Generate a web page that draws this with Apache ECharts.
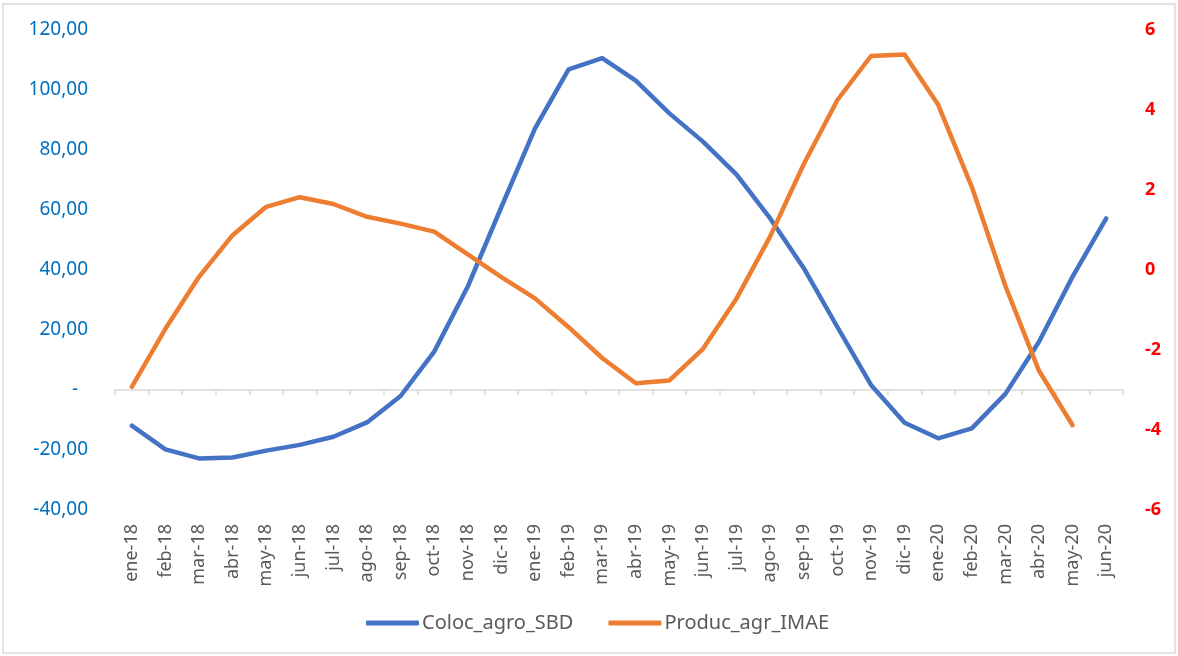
<!DOCTYPE html>
<html>
<head>
<meta charset="utf-8">
<script src="https://cdn.jsdelivr.net/npm/echarts@6/dist/echarts.min.js"></script>
<style>
html,body{margin:0;padding:0;background:#fff;}
#chart{width:1178px;height:656px;}
</style>
</head>
<body>
<div id="chart"></div>
<script>
var categories = ['ene-18','feb-18','mar-18','abr-18','may-18','jun-18','jul-18','ago-18','sep-18','oct-18','nov-18','dic-18',
  'ene-19','feb-19','mar-19','abr-19','may-19','jun-19','jul-19','ago-19','sep-19','oct-19','nov-19','dic-19',
  'ene-20','feb-20','mar-20','abr-20','may-20','jun-20'];
var colocAgroSBD = [-11.9, -19.8, -22.8, -22.5, -20.2, -18.3, -15.6, -10.8, -2.0, 12.8, 34.5, 61.0,
  87.2, 106.9, 110.6, 103.1, 92.2, 82.8, 71.8, 57.2, 40.6, 21.0, 1.7, -10.9,
  -16.1, -12.8, -1.3, 16.1, 37.8, 57.2];
var producAgrIMAE = [-2.92, -1.47, -0.17, 0.87, 1.58, 1.82, 1.65, 1.33, 1.16, 0.96, 0.39, -0.18,
  -0.71, -1.43, -2.2, -2.83, -2.76, -1.97, -0.71, 0.84, 2.65, 4.25, 5.35, 5.39,
  4.13, 2.08, -0.4, -2.52, -3.88, null];
var seriesNames = ['Coloc_agro_SBD', 'Produc_agr_IMAE'];

var font = 'Noto Sans';
var chart = echarts.init(document.getElementById('chart'));
chart.setOption({
  animation: false,
  backgroundColor: '#fff',
  graphic: [{
    type: 'rect',
    shape: {x: 3, y: 4, width: 1172, height: 649},
    style: {fill: 'none', stroke: '#D9D9D9', lineWidth: 1.5},
    silent: true
  }],
  grid: {left: 115, right: 55, top: 30, bottom: 146},
  legend: {
    data: seriesNames,
    left: 361,
    top: 608,
    icon: 'roundRect',
    itemWidth: 53,
    itemHeight: 5,
    itemGap: 35,
    textStyle: {fontFamily: font, fontSize: 20, color: '#595959', padding: [0, 0, 0, -2]}
  },
  xAxis: [{
    type: 'category',
    data: categories,
    position: 'bottom',
    boundaryGap: true,
    axisLine: {show: false, onZero: false},
    axisTick: {show: false},
    axisLabel: {rotate: 90, margin: 14, interval: 0, fontFamily: font, fontSize: 18, color: '#595959'}
  }, {
    type: 'category',
    data: categories,
    position: 'top',
    boundaryGap: true,
    axisLine: {show: true, onZero: true, onZeroAxisIndex: 0, lineStyle: {color: '#D9D9D9', width: 1.5}},
    axisTick: {show: true, inside: true, length: 5, interval: 0, lineStyle: {color: '#D9D9D9', width: 1.5}},
    axisLabel: {show: false}
  }],
  yAxis: [{
    type: 'value',
    min: -40, max: 120, interval: 20,
    axisLine: {show: false},
    axisTick: {show: false},
    splitLine: {show: false},
    axisLabel: {
      margin: 27,
      fontFamily: font, fontSize: 19, color: '#0070C0',
      formatter: function (v) { return v === 0 ? '-  ' : v.toFixed(2).replace('.', ','); }
    }
  }, {
    type: 'value',
    min: -6, max: 6, interval: 2,
    position: 'right',
    axisLine: {show: false},
    axisTick: {show: false},
    splitLine: {show: false},
    axisLabel: {margin: 22, fontFamily: font, fontSize: 18, fontWeight: 'bold', color: '#FF0000'}
  }],
  series: [{
    name: seriesNames[0],
    type: 'line',
    xAxisIndex: 0,
    yAxisIndex: 0,
    data: colocAgroSBD,
    symbol: 'none',
    itemStyle: {color: '#4472C4'},
    lineStyle: {color: '#4472C4', width: 4.5, cap: 'round', join: 'round'}
  }, {
    name: seriesNames[1],
    type: 'line',
    xAxisIndex: 0,
    yAxisIndex: 1,
    data: producAgrIMAE,
    symbol: 'none',
    itemStyle: {color: '#ED7D31'},
    lineStyle: {color: '#ED7D31', width: 4.5, cap: 'round', join: 'round'}
  }]
});
</script>
</body>
</html>
